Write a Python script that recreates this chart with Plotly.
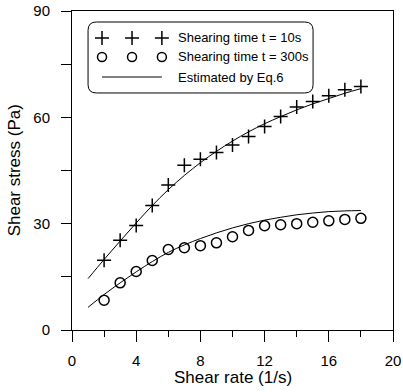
import plotly.graph_objects as go

# ---- data ----
shear_rate = [2, 3, 4, 5, 6, 7, 8, 9, 10, 11, 12, 13, 14, 15, 16, 17, 18]
stress_10s = [19.7, 25.3, 29.5, 35.1, 40.9, 46.5, 48.2, 50.1, 52.2, 54.6, 57.4,
              60.2, 62.9, 64.5, 66.1, 67.8, 68.7]
stress_300s = [8.4, 13.3, 16.5, 19.6, 22.7, 23.2, 23.8, 24.6, 26.3, 28.1, 29.4,
               29.7, 30.0, 30.4, 30.8, 31.2, 31.5]

fit_rate = [1, 2, 3, 4, 5, 6, 7, 8, 9, 10, 11, 12, 13, 14, 15, 16, 17, 18]
fit_10s = [14.5, 19.9, 25.1, 30.2, 35.1, 39.6, 43.6, 47.2, 50.4, 53.3, 55.9,
           58.2, 60.2, 62.1, 63.8, 65.3, 66.8, 68.1]
fit_300s = [6.4, 10.0, 13.3, 16.4, 19.3, 21.9, 24.0, 25.8, 27.4, 28.8, 30.0,
            31.0, 31.8, 32.5, 33.0, 33.4, 33.6, 33.7]

legend_labels = ["Shearing time t = 10s", "Shearing time t = 300s", "Estimated by Eq.6"]
x_title = "Shear rate (1/s)"
y_title = "Shear stress (Pa)"

x_ticks = [0, 4, 8, 12, 16, 20]
y_ticks = [0, 30, 60, 90]

FONT = "Liberation Sans, Arial, sans-serif"

fig = go.Figure()

fig.add_trace(go.Scatter(x=fit_rate, y=fit_10s, mode="lines",
                         line=dict(color="black", width=1, shape="spline"),
                         showlegend=False, hoverinfo="skip"))
fig.add_trace(go.Scatter(x=fit_rate, y=fit_300s, mode="lines",
                         line=dict(color="black", width=1, shape="spline"),
                         showlegend=False, hoverinfo="skip"))
fig.add_trace(go.Scatter(x=shear_rate, y=stress_10s, mode="markers",
                         marker=dict(symbol="cross-thin-open", size=10, color="black",
                                     line=dict(color="black", width=1.5)),
                         showlegend=False))
fig.add_trace(go.Scatter(x=shear_rate, y=stress_300s, mode="markers",
                         marker=dict(symbol="circle-open", size=10, color="black",
                                     line=dict(color="black", width=1.5)),
                         showlegend=False))

# ---- hand-drawn legend on an overlay axis (0..1) ----
sym_x = [0.0935, 0.187, 0.280]
row_y = [0.9154, 0.8558, 0.7931]
fig.add_trace(go.Scatter(x=sym_x, y=[row_y[0]] * 3, mode="markers", xaxis="x2", yaxis="y2",
                         marker=dict(symbol="cross-thin-open", size=10, color="black",
                                     line=dict(color="black", width=1.5)),
                         showlegend=False, hoverinfo="skip"))
fig.add_trace(go.Scatter(x=sym_x, y=[row_y[1]] * 3, mode="markers", xaxis="x2", yaxis="y2",
                         marker=dict(symbol="circle-open", size=9, color="black",
                                     line=dict(color="black", width=1.5)),
                         showlegend=False, hoverinfo="skip"))
fig.add_trace(go.Scatter(x=[sym_x[0], sym_x[2]], y=[row_y[2]] * 2, mode="lines",
                         xaxis="x2", yaxis="y2", line=dict(color="black", width=1),
                         showlegend=False, hoverinfo="skip"))
for lab, yy in zip(legend_labels, row_y):
    fig.add_annotation(x=0.324, y=yy, xref="paper", yref="paper", text=lab,
                       showarrow=False, xanchor="left", yanchor="middle",
                       font=dict(family=FONT, size=13, color="black"))

# axis titles
fig.add_annotation(x=0.5, y=-0.150, xref="paper", yref="paper", text=x_title,
                   showarrow=False, xanchor="center", yanchor="middle",
                   font=dict(family=FONT, size=17, color="black"))
fig.add_annotation(x=-0.178, y=0.5, xref="paper", yref="paper", text=y_title,
                   showarrow=False, xanchor="center", yanchor="middle", textangle=-90,
                   font=dict(family=FONT, size=17, color="black"))

# rounded legend box
x0, x1, y0, y1 = 0.050, 0.751, 0.743, 0.9655
rx, ry = 0.026, 0.026
path = (f"M {x0+rx},{y0} L {x1-rx},{y0} Q {x1},{y0} {x1},{y0+ry} "
        f"L {x1},{y1-ry} Q {x1},{y1} {x1-rx},{y1} "
        f"L {x0+rx},{y1} Q {x0},{y1} {x0},{y1-ry} "
        f"L {x0},{y0+ry} Q {x0},{y0} {x0+rx},{y0} Z")
fig.add_shape(type="path", path=path, xref="paper", yref="paper",
              line=dict(color="black", width=1), fillcolor="rgba(0,0,0,0)")

fig.update_layout(
    width=403, height=392,
    margin=dict(l=72, r=10, t=11, b=62, autoexpand=False),
    paper_bgcolor="white", plot_bgcolor="white",
    font=dict(family=FONT, size=15, color="black"),
    xaxis=dict(range=[0, 20], tickvals=x_ticks, ticks="outside", ticklen=11,
               tickwidth=1, tickcolor="black", showline=True, linecolor="black",
               linewidth=1, mirror=True, showgrid=False, zeroline=False,
               ticklabelstandoff=6, automargin=False,
               minor=dict(dtick=2, tick0=0, ticks="outside", ticklen=6,
                          tickcolor="black", tickwidth=1, showgrid=False)),
    yaxis=dict(range=[0, 90], tickvals=y_ticks, ticks="outside", ticklen=10,
               tickwidth=1, tickcolor="black", showline=True, linecolor="black",
               linewidth=1, mirror=True, showgrid=False, zeroline=False,
               ticklabelstandoff=8, automargin=False,
               minor=dict(dtick=15, tick0=0, ticks="outside", ticklen=10,
                          tickcolor="black", tickwidth=1, showgrid=False)),
    xaxis2=dict(range=[0, 1], overlaying="x", visible=False, fixedrange=True),
    yaxis2=dict(range=[0, 1], overlaying="y", visible=False, fixedrange=True),
)

fig.write_html("out.html", config={"displayModeBar": False},
               post_script="document.body.style.margin='0';document.body.style.overflow='hidden';")
